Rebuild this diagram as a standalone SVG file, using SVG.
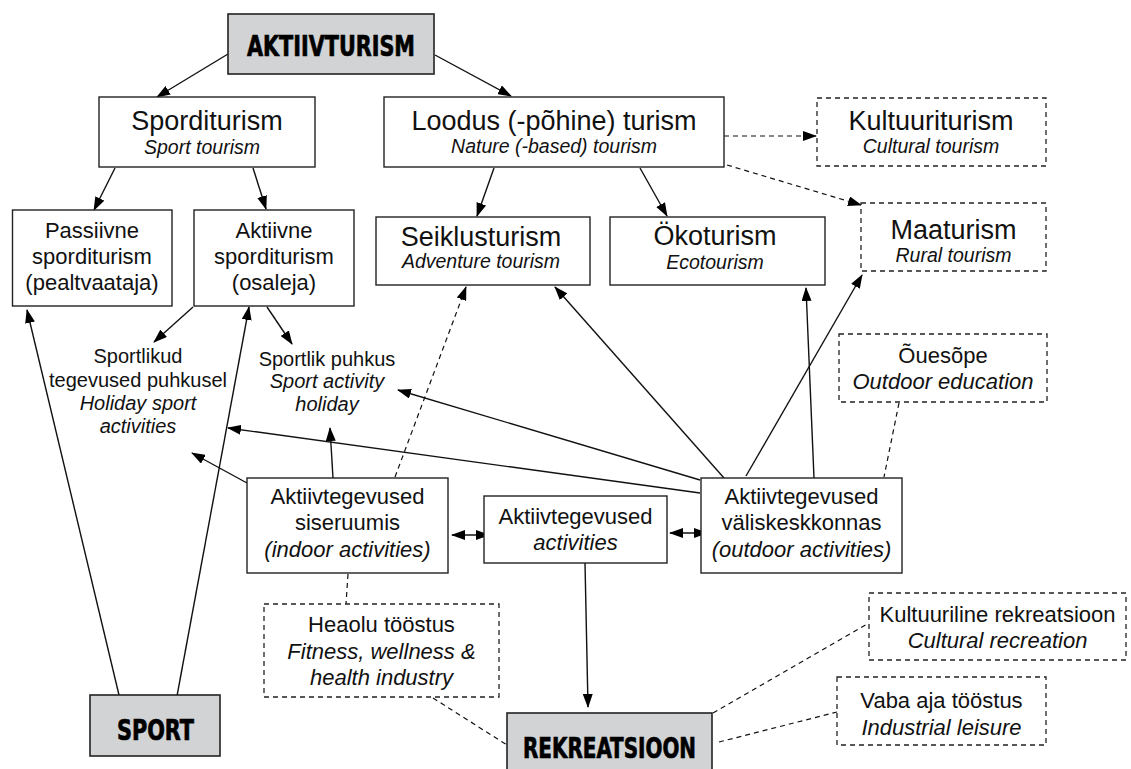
<svg xmlns="http://www.w3.org/2000/svg" width="1131" height="769" viewBox="0 0 1131 769">
<defs>
<style>
.bx{fill:#fff;stroke:#222;stroke-width:1.4}
.dbx{fill:#fff;stroke:#222;stroke-width:1.3;stroke-dasharray:5 4}
.gbx{fill:#d1d3d4;stroke:#222;stroke-width:1.6}
.t{font-family:"Liberation Sans",Arial,sans-serif;fill:#111;text-anchor:middle}
.l{font-size:27px}
.m{font-size:22px}
.s{font-size:20px}
.i{font-style:italic}
.si{font-size:19.5px;font-style:italic}
.h{font-family:"Liberation Sans Narrow","DejaVu Sans Condensed","Liberation Sans",sans-serif;font-weight:bold;font-size:29px;fill:#000;stroke:#000;stroke-width:0.7;text-anchor:middle}
.c{stroke:#111;stroke-width:1.4;fill:none}
.a{marker-end:url(#ah)}
.d{stroke-dasharray:5 4;stroke-width:1.2}
.dd{marker-start:url(#ah);marker-end:url(#ah)}
</style>
<marker id="ah" viewBox="0 0 14 10" refX="13" refY="5" markerWidth="14" markerHeight="10" markerUnits="userSpaceOnUse" orient="auto-start-reverse">
<path d="M0,0 L14,5 L0,10 z" fill="#000"/>
</marker>
</defs>
<rect width="1131" height="769" fill="#fff"/>

<g id="connectors">
<path class="c a" d="M228,54 L157,97"/>
<path class="c a" d="M435,55 L511,96"/>
<path class="c a" d="M115,168 L94,210"/>
<path class="c a" d="M253,168 L266,209"/>
<path class="c a" d="M494,168 L477,216"/>
<path class="c a" d="M640,168 L667,216"/>
<path class="c a d" d="M724,136 L816,136"/>
<path class="c a d" d="M727,165 L861,205"/>
<path class="c a" d="M193,307 L154,342"/>
<path class="c a" d="M267,307 L292,344"/>
<path class="c a" d="M119,695 L27,310"/>
<path class="c a" d="M177,696 L249,307"/>
<path class="c a" d="M247,483 L192,453"/>
<path class="c a" d="M333,478 L330,428"/>
<path class="c a d" d="M395,477 L466,287"/>
<path class="c a" d="M700,493 L228,428"/>
<path class="c a" d="M700,480 L398,390"/>
<path class="c a" d="M724,478 L555,287"/>
<path class="c a" d="M814,478 L806,288"/>
<path class="c a" d="M746,476 L862,275"/>
<path class="c d" d="M899,403 L884,477"/>
<path class="c dd" d="M452,535 L489,535"/>
<path class="c dd" d="M670,533 L707,533"/>
<path class="c a" d="M585,563 L588,707"/>
<path class="c d" d="M348,574 L346,604"/>
<path class="c d" d="M433,698 L507,745"/>
<path class="c d" d="M713,713 L869,623"/>
<path class="c d" d="M719,742 L837,712"/>
</g>

<g id="aktiivturism">
<rect class="gbx" x="228" y="14" width="206" height="60"/>
<text class="h" x="331" y="56" textLength="168" lengthAdjust="spacingAndGlyphs">AKTIIVTURISM</text>
</g>

<g id="sporditurism">
<rect class="bx" x="99" y="97" width="216" height="70"/>
<text class="t l" x="207" y="130">Sporditurism</text>
<text class="t si" x="202" y="154">Sport tourism</text>
</g>

<g id="loodusturism">
<rect class="bx" x="384" y="97" width="340" height="70"/>
<text class="t l" x="554" y="130">Loodus (-põhine) turism</text>
<text class="t si" x="554" y="153">Nature (-based) tourism</text>
</g>

<g id="kultuuriturism">
<rect class="dbx" x="817" y="98" width="229" height="68"/>
<text class="t l" x="931" y="130">Kultuuriturism</text>
<text class="t si" x="931" y="153">Cultural tourism</text>
</g>

<g id="passiivne">
<rect class="bx" x="12.5" y="210" width="159.5" height="96"/>
<text class="t m" x="92" y="238">Passiivne</text>
<text class="t m" x="92" y="264">sporditurism</text>
<text class="t m" x="92" y="290">(pealtvaataja)</text>
</g>

<g id="aktiivne">
<rect class="bx" x="194" y="210" width="160" height="96"/>
<text class="t m" x="274" y="238">Aktiivne</text>
<text class="t m" x="274" y="264">sporditurism</text>
<text class="t m" x="274" y="290">(osaleja)</text>
</g>

<g id="seiklusturism">
<rect class="bx" x="376" y="217" width="214" height="68"/>
<text class="t l" x="481" y="246">Seiklusturism</text>
<text class="t si" x="481" y="268">Adventure tourism</text>
</g>

<g id="okoturism">
<rect class="bx" x="610" y="217" width="215" height="68"/>
<text class="t l" x="715" y="245">Ökoturism</text>
<text class="t si" x="715" y="269">Ecotourism</text>
</g>

<g id="maaturism">
<rect class="dbx" x="861" y="203" width="185" height="68"/>
<text class="t l" x="953.5" y="239">Maaturism</text>
<text class="t si" x="953.5" y="262">Rural tourism</text>
</g>

<g id="ouesope">
<rect class="dbx" x="839" y="334" width="208" height="68"/>
<text class="t m" x="943" y="363">Õuesõpe</text>
<text class="t m i" x="943" y="389">Outdoor education</text>
</g>

<g id="sportlikud">
<text class="t s" x="138" y="363">Sportlikud</text>
<text class="t s" x="138" y="387">tegevused puhkusel</text>
<text class="t s i" x="138" y="410">Holiday sport</text>
<text class="t s i" x="138" y="433">activities</text>
</g>

<g id="sportlikpuhkus">
<text class="t s" x="327" y="366">Sportlik puhkus</text>
<text class="t s i" x="327" y="388">Sport activity</text>
<text class="t s i" x="327" y="411">holiday</text>
</g>

<g id="indoor">
<rect class="bx" x="247" y="478" width="201" height="95"/>
<text class="t m" x="347.5" y="504">Aktiivtegevused</text>
<text class="t m" x="347.5" y="530">siseruumis</text>
<text class="t m i" x="347.5" y="557">(indoor activities)</text>
</g>

<g id="activities">
<rect class="bx" x="484" y="496" width="183" height="67"/>
<text class="t m" x="575.5" y="524">Aktiivtegevused</text>
<text class="t m i" x="575.5" y="550">activities</text>
</g>

<g id="outdoor">
<rect class="bx" x="701" y="478" width="201" height="95"/>
<text class="t m" x="801.5" y="504">Aktiivtegevused</text>
<text class="t m" x="801.5" y="530">väliskeskkonnas</text>
<text class="t m i" x="801.5" y="557">(outdoor activities)</text>
</g>

<g id="heaolu">
<rect class="dbx" x="264" y="604" width="235" height="93"/>
<text class="t m" x="381.5" y="632">Heaolu tööstus</text>
<text class="t m i" x="381.5" y="659">Fitness, wellness &amp;</text>
<text class="t m i" x="381.5" y="685">health industry</text>
</g>

<g id="kultuurilinerekreatsioon">
<rect class="dbx" x="869" y="593" width="257" height="67"/>
<text class="t m" x="997.5" y="622">Kultuuriline rekreatsioon</text>
<text class="t m i" x="997.5" y="648">Cultural recreation</text>
</g>

<g id="vabaaja">
<rect class="dbx" x="837" y="677" width="209" height="68"/>
<text class="t m" x="941.5" y="708">Vaba aja tööstus</text>
<text class="t m i" x="941.5" y="735">Industrial leisure</text>
</g>

<g id="sport">
<rect class="gbx" x="90" y="695" width="130" height="61"/>
<text class="h" x="155.5" y="740" textLength="77" lengthAdjust="spacingAndGlyphs">SPORT</text>
</g>

<g id="rekreatsioon">
<rect class="gbx" x="507" y="713" width="205" height="70"/>
<text class="h" x="609.5" y="758" textLength="173" lengthAdjust="spacingAndGlyphs">REKREATSIOON</text>
</g>
</svg>
